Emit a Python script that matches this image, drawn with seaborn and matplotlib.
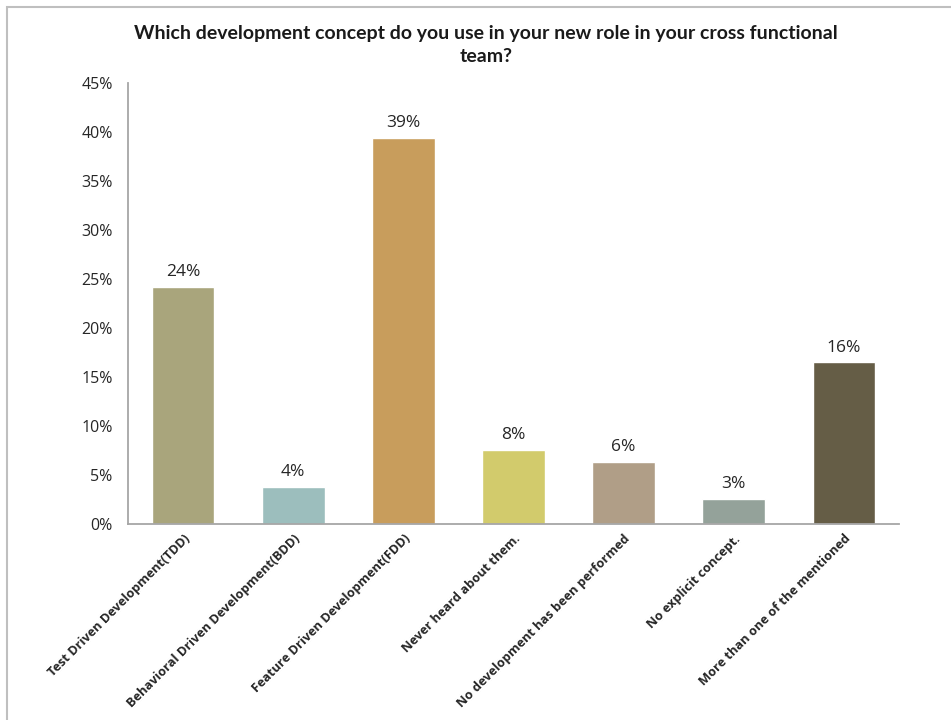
import matplotlib
matplotlib.use("Agg")
import matplotlib.pyplot as plt
from matplotlib.patches import Rectangle
from matplotlib.ticker import FuncFormatter
import seaborn as sns
import pandas as pd

# Survey answers and their share of respondents (%)
categories = [
    "Test Driven Development(TDD)",
    "Behavioral Driven Development(BDD)",
    "Feature Driven Development(FDD)",
    "Never heard about them.",
    "No development has been performed",
    "No explicit concept.",
    "More than one of the mentioned",
]
shares = [24.2, 3.8, 39.4, 7.6, 6.3, 2.6, 16.5]
bar_colors = ["#A9A57C", "#9CBEBD", "#C89D5C", "#D2CB6C", "#B09E87", "#94A29A", "#655D46"]
y_ticks = [0, 5, 10, 15, 20, 25, 30, 35, 40, 45]
title = "Which development concept do you use in your new role in your cross functional\nteam?"

sns.set_theme(style="white")
plt.rcParams["font.family"] = ["Open Sans", "DejaVu Sans"]

df = pd.DataFrame({"concept": categories, "share": shares})

W, H = 951, 720
fig = plt.figure(figsize=(W / 100, H / 100), dpi=100)
ax = fig.add_axes([128 / W, 1 - 524 / H, (899 - 128) / W, (524 - 83.5) / H])

sns.barplot(data=df, x="concept", y="share", hue="concept", palette=bar_colors,
            legend=False, width=0.57, saturation=1, ax=ax)

ax.set_ylim(0, 45)
ax.set_xlim(-0.5, len(categories) - 0.5)
ax.set_yticks(y_ticks)
ax.yaxis.set_major_formatter(FuncFormatter(lambda v, _: f"{v:.0f}%"))
ax.tick_params(axis="y", labelsize=11.5, labelcolor="#262626", length=0, pad=11)
ax.tick_params(axis="x", length=0, pad=6)
ax.set_xticks(range(len(categories)))
ax.set_xticklabels(categories, rotation=45, ha="right", rotation_mode="anchor",
                   fontsize=9.2, fontweight="bold", color="#262626")
ax.set_xlabel("")
ax.set_ylabel("")

for side in ["top", "right"]:
    ax.spines[side].set_visible(False)
for side in ["left", "bottom"]:
    ax.spines[side].set_color("#A6A6A6")
    ax.spines[side].set_linewidth(1.3)

for container in ax.containers:
    ax.bar_label(container, labels=[f"{round(v):d}%" for v in container.datavalues],
                 padding=5, fontsize=12.5, color="#262626")

fig.text(486 / W, 1 - 45 / H, title, ha="center", va="center", fontsize=14,
         fontweight="bold", family=["Lato", "DejaVu Sans"], color="#1a1a1a",
         linespacing=1.4)

# chart-area frame
fig.patches.append(Rectangle((6.5 / W, -0.05), 1.1, 1 - 7 / H + 0.05,
                             transform=fig.transFigure, fill=False,
                             edgecolor="#BFBFBF", linewidth=1.5))

fig.savefig("out.png", dpi=100, facecolor="white")
